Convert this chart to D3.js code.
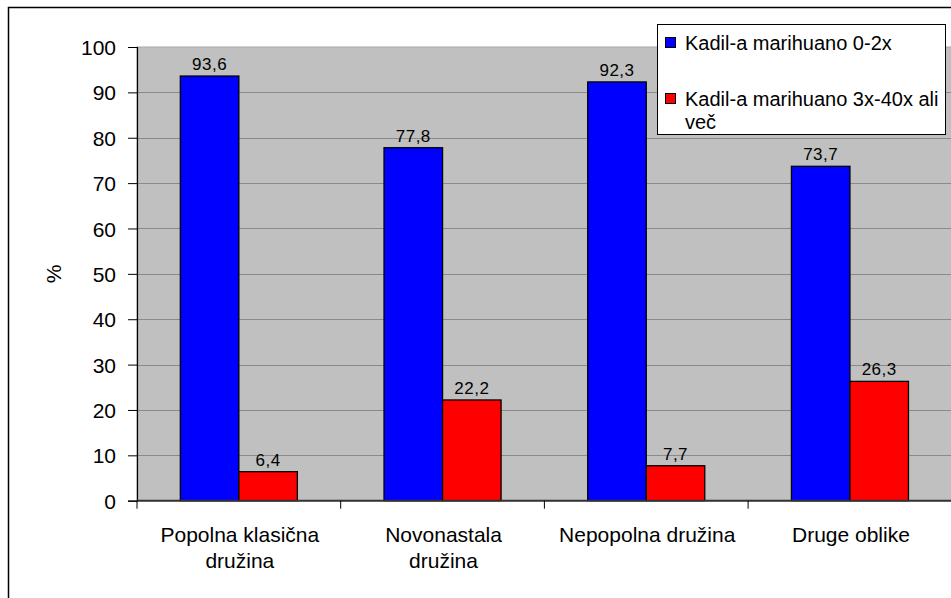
<!DOCTYPE html>
<html><head><meta charset="utf-8">
<script src="https://cdn.jsdelivr.net/npm/d3@7"></script>
<style>
html,body{margin:0;padding:0;background:#fff;}
svg{display:block;}
text{font-family:"Liberation Sans",Arial,sans-serif;fill:#000;}
</style></head>
<body>
<svg id="c" width="951" height="598"></svg>
<script>
const categories = [["Popolna klasična","družina"],["Novonastala","družina"],["Nepopolna družina"],["Druge oblike"]];
const categoryKeys = ["Popolna klasična družina","Novonastala družina","Nepopolna družina","Druge oblike"];
const seriesNames = ["Kadil-a marihuano 0-2x","Kadil-a marihuano 3x-40x ali več"];
const seriesLegendLines = [["Kadil-a marihuano 0-2x"],["Kadil-a marihuano 3x-40x ali","več"]];
const seriesColors = ["#0000FF","#FF0000"];
const low = [93.6, 77.8, 92.3, 73.7];
const high = [6.4, 22.2, 7.7, 26.3];
const yTicks = [0,10,20,30,40,50,60,70,80,90,100];

const svg = d3.select("#c");
// outer frame
svg.append("rect").attr("x",8.5).attr("y",7.5).attr("width",960).attr("height",620)
  .attr("fill","#fff").attr("stroke","#000").attr("stroke-width",1.5);

const L=137, R=951.8, T=47, B=500.7;
const x0 = d3.scaleBand().domain(categoryKeys).range([L,R]).paddingInner(0).paddingOuter(0);
const bw = x0.bandwidth();
const x1 = d3.scaleBand().domain([0,1]).range([bw*0.2127, bw*(1-0.2127)]);
const y = d3.scaleLinear().domain([0,100]).range([B,T]);

// plot area
svg.append("rect").attr("x",L).attr("y",T).attr("width",R-L).attr("height",B-T)
  .attr("fill","#C0C0C0").attr("stroke","#a8a8a8").attr("stroke-width",1);

// gridlines
svg.append("g").selectAll("line").data(yTicks.filter(d=>d>0 && d<100)).join("line")
  .attr("x1",L).attr("x2",R).attr("y1",d=>Math.round(y(d))+0.5).attr("y2",d=>Math.round(y(d))+0.5)
  .attr("stroke","#8a8a8a").attr("stroke-width",1);

// y axis
const yAxis = d3.axisLeft(y).tickValues(yTicks).tickSize(9).tickPadding(12).tickFormat(d3.format("d"));
const gy = svg.append("g").attr("transform",`translate(${L},0)`).call(yAxis);
gy.select(".domain").attr("stroke","#000").attr("stroke-width",1.2);
gy.selectAll(".tick line").attr("stroke","#000");
gy.selectAll(".tick text").style("font-size","21px").style("font-family","'Liberation Sans',Arial,sans-serif").attr("dy","0.36em");

// y title
svg.append("text").attr("transform","translate(61,274) rotate(-90)").attr("text-anchor","middle")
  .style("font-size","21px").text("%");

// bars
const data = categoryKeys.map((c,i)=>({c, vals:[low[i],high[i]]}));
const groups = svg.append("g").selectAll("g").data(data).join("g")
  .attr("transform",d=>`translate(${x0(d.c)},0)`);
groups.selectAll("rect").data(d=>d.vals.map((v,k)=>({v,k}))).join("rect")
  .attr("x",d=>x1(d.k)).attr("width",x1.bandwidth())
  .attr("y",d=>y(d.v)).attr("height",d=>B-y(d.v))
  .attr("fill",d=>seriesColors[d.k]).attr("stroke","#000").attr("stroke-width",1.3);
groups.selectAll("text").data(d=>d.vals.map((v,k)=>({v,k}))).join("text")
  .attr("x",d=>x1(d.k)+x1.bandwidth()/2).attr("y",d=>y(d.v)-6)
  .attr("text-anchor","middle").style("font-size","17px").style("letter-spacing","0.5px")
  .text(d=>d3.format(".1f")(d.v).replace(".",","));

// x axis
svg.append("line").attr("x1",L).attr("x2",R).attr("y1",B).attr("y2",B).attr("stroke","#333").attr("stroke-width",2);
svg.append("g").selectAll("line").data(categoryKeys).join("line")
  .attr("x1",d=>x0(d)).attr("x2",d=>x0(d)).attr("y1",B).attr("y2",B+8).attr("stroke","#000");
const xl = svg.append("g").selectAll("text").data(categories.map((lines,i)=>({lines,key:categoryKeys[i]}))).join("text")
  .attr("text-anchor","middle").style("font-size","21px");
xl.each(function(d){
  const t=d3.select(this);
  d.lines.forEach((ln,j)=>t.append("tspan").attr("x",x0(d.key)+bw/2+1).attr("y",542+j*26).text(ln));
});

// legend
const lg = svg.append("g");
lg.append("rect").attr("x",657.5).attr("y",24.5).attr("width",288).attr("height",110)
  .attr("fill","#fff").attr("stroke","#000").attr("stroke-width",1);
const legendY = [50, 106];
seriesNames.forEach((s,i)=>{
  lg.append("rect").attr("x",665.5).attr("y",legendY[i]-12.5).attr("width",10).attr("height",10)
    .attr("fill",seriesColors[i]).attr("stroke","#000").attr("stroke-width",1);
  const t = lg.append("text").style("font-size","20px");
  seriesLegendLines[i].forEach((ln,j)=>t.append("tspan").attr("x",685).attr("y",legendY[i]+j*23).text(ln));
});
</script>
</body></html>
